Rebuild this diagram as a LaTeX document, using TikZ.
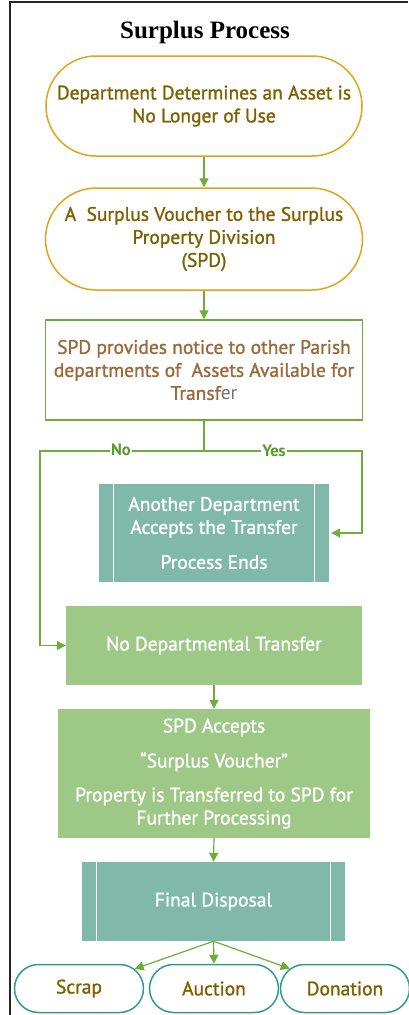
\documentclass[tikz,border=0pt]{standalone}
\usepackage{fontspec}
\setmainfont{Liberation Serif}
\newfontfamily\fg[FakeBold=1.3]{PT Sans}
\newfontfamily\fgl{PT Sans}
\usetikzlibrary{shapes.misc,arrows.meta}
\definecolor{gold}{HTML}{E3A21A}
\definecolor{brn}{HTML}{7F6000}
\definecolor{lbrn}{HTML}{9C6A3A}
\definecolor{grn}{HTML}{6DAE3A}
\definecolor{dgrn}{HTML}{5A9A2A}
\definecolor{teal}{HTML}{80B9AA}
\definecolor{lgrn}{HTML}{9DC886}
\definecolor{tealline}{HTML}{2E9C8C}
\tikzset{
  x=1pt,y=-1pt,
  txt/.style={font=\fg\fontsize{19.5}{23}\selectfont, align=center},
  stadium/.style={rounded rectangle, draw=gold, line width=1.5pt, text=brn, txt, inner sep=0pt},
  endbox/.style={rounded rectangle, draw=tealline, line width=1.5pt, text=brn, txt, inner sep=0pt, minimum width=129pt, minimum height=48pt},
  greenbox/.style={rectangle, draw=grn, line width=1.5pt, text=lbrn, txt, inner sep=0pt},
  subbox/.style={rectangle, fill=teal, text=white, txt, inner sep=0pt},
  fillbox/.style={rectangle, fill=lgrn, text=white, txt, inner sep=0pt},
  conn/.style={draw=grn, line width=1.2pt},
  arr/.style={conn, -{Triangle[width=9pt,length=9pt]}},
  lbl/.style={fill=white, text=dgrn, font=\fgl\bfseries\fontsize{16.5}{19}\selectfont, inner sep=1pt}
}
\begin{document}
\begin{tikzpicture}
\useasboundingbox (0,0) rectangle (408,1015);
\draw[line width=2pt, color=black!85] (9.5,1015) -- (9.5,2) -- (408,2);
\node[font=\bfseries\fontsize{25}{28}\selectfont] (title) at (205,32) {Surplus Process};

\node[stadium, minimum width=316pt, minimum height=100pt] (n1) at (204,106)
  {Department Determines an Asset is\\No Longer of Use};
\node[stadium, minimum width=317pt, minimum height=102pt] (n2) at (204,239)
  {A\ \ Surplus Voucher to the Surplus\\Property Division\\(SPD)};
\node[greenbox, minimum width=317pt, minimum height=100pt] (n3) at (204,370)
  {SPD provides notice to other Parish\\departments of\ \ Assets Available for\\Transf{\fgl\color{black!55}er}};

\node[subbox, minimum width=230pt, minimum height=98pt] (n4) at (214,533)
  {Another Department\\Accepts the Transfer\\[12pt]Process Ends};
\draw[white, line width=1.2pt] ([xshift=15pt]n4.north west) -- ([xshift=15pt]n4.south west);
\draw[white, line width=1.2pt] ([xshift=-15pt]n4.north east) -- ([xshift=-15pt]n4.south east);

\node[fillbox, minimum width=296pt, minimum height=79pt] (n5) at (214,645.5)
  {No Departmental Transfer};
\node[fillbox, minimum width=312pt, minimum height=129pt] (n6) at (214,773.5)
  {SPD Accepts\\[12pt]\textquotedblleft Surplus Voucher\textquotedblright\\[11pt]Property is Transferred to SPD for\\Further Processing};
\node[subbox, minimum width=263pt, minimum height=79pt] (n7) at (213.5,901.5)
  {Final Disposal};
\draw[white, line width=1.2pt] ([xshift=15pt]n7.north west) -- ([xshift=15pt]n7.south west);
\draw[white, line width=1.2pt] ([xshift=-15pt]n7.north east) -- ([xshift=-15pt]n7.south east);

\node[endbox] (scrap) at (79,988.5) {Scrap};
\node[endbox] (auction) at (214,988.5) {Auction};
\node[endbox] (donation) at (345,988.5) {Donation};

\coordinate (split) at (204,451);
\coordinate (noL) at (40,451);
\coordinate (yesR) at (362,451);

\draw[arr] (n1.south) -- (n2.north);
\draw[arr] (n2.south) -- (n3.north);
\draw[conn] (n3.south) -- (split);
\draw[arr] (split) -- (noL) |- (n5.west);
\draw[arr] (split) -- (yesR) |- ([xshift=2pt]n4.east);
\node[lbl] (no) at (121,450) {No};
\node[lbl] (yes) at (274,451) {Yes};
\draw[arr] (n5.south) -- (n6.north);
\draw[arr] (n6.south) -- (n7.north);
\draw[arr] (n7.south) -- (scrap);
\draw[arr] (n7.south) -- (auction.north);
\draw[arr] (n7.south) -- (donation);
\end{tikzpicture}
\end{document}
